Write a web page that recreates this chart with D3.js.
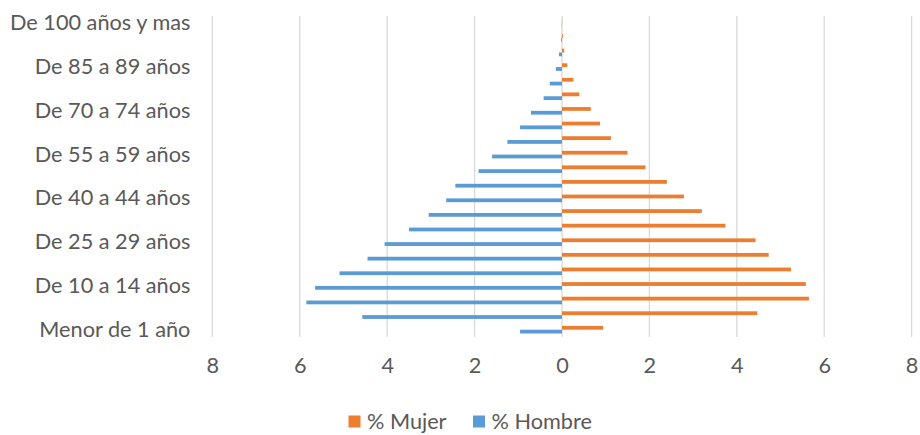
<!DOCTYPE html>
<html><head><meta charset="utf-8">
<script src="https://cdn.jsdelivr.net/npm/d3@7"></script>
<style>body{margin:0;background:#fff}svg{display:block}</style>
</head><body>
<svg id="c" width="920" height="435"></svg>
<script>
const categories = ["Menor de 1 año","De 1 a 4 años","De 5 a 9 años","De 10 a 14 años","De 15 a 19 años","De 20 a 24 años","De 25 a 29 años","De 30 a 34 años","De 35 a 39 años","De 40 a 44 años","De 45 a 49 años","De 50 a 54 años","De 55 a 59 años","De 60 a 64 años","De 65 a 69 años","De 70 a 74 años","De 75 a 79 años","De 80 a 84 años","De 85 a 89 años","De 90 a 94 años","De 95 a 99 años","De 100 años y mas"];
const mujer = [0.94,4.47,5.65,5.58,5.24,4.73,4.43,3.74,3.2,2.79,2.4,1.91,1.5,1.12,0.87,0.66,0.40,0.26,0.12,0.05,0.02,0.005];
const hombre = [0.96,4.57,5.85,5.65,5.09,4.45,4.06,3.5,3.05,2.65,2.44,1.91,1.6,1.25,0.96,0.71,0.42,0.28,0.14,0.07,0.02,0.005];
const xTicks = [-8,-6,-4,-2,0,2,4,6,8];
const seriesNames = ["% Mujer","% Hombre"];
const colors = ["#ED7D31","#5B9BD5"];

const font = "Lato, sans-serif";
const fs = 21.7;
const svg = d3.select("#c");
const L = 212.4, R = 911.6, T = 16, B = 337;
const x = d3.scaleLinear().domain([-8,8]).range([L,R]);
const y = d3.scaleBand().domain(categories).range([B,T]).paddingInner(0.48).paddingOuter(0.24);
const sub = d3.scaleBand().domain(seriesNames).range([0,y.bandwidth()]);

// gridlines
svg.append("g").selectAll("line").data(xTicks).join("line")
  .attr("x1",d=>x(d)).attr("x2",d=>x(d)).attr("y1",T).attr("y2",B)
  .attr("stroke","#d9d9d9").attr("stroke-width",1.3);

// bars
const rows = categories.map((c,i)=>({c, m:mujer[i], h:hombre[i]}));
svg.append("g").selectAll("rect").data(rows).join("rect")
  .attr("x",x(0)).attr("y",d=>y(d.c)+sub("% Mujer"))
  .attr("width",d=>x(d.m)-x(0)).attr("height",sub.bandwidth())
  .attr("fill",colors[0]);
svg.append("g").selectAll("rect").data(rows).join("rect")
  .attr("x",d=>x(-d.h)).attr("y",d=>y(d.c)+sub("% Hombre"))
  .attr("width",d=>x(0)-x(-d.h)).attr("height",sub.bandwidth())
  .attr("fill",colors[1]);

// y axis labels
const yAxis = d3.axisLeft(y).tickSize(0).tickPadding(22)
  .tickValues(categories.filter((c,i)=>i%3===0));
const ya = svg.append("g").attr("transform",`translate(${L},0)`).call(yAxis);
ya.select(".domain").remove();
ya.selectAll("text").attr("font-family",font).attr("font-size",fs).attr("fill","#595959");

// x axis labels
const xAxis = d3.axisBottom(x).tickValues(xTicks).tickSize(0).tickPadding(21).tickFormat(d=>Math.abs(d));
const xa = svg.append("g").attr("transform",`translate(0,${B})`).call(xAxis);
xa.select(".domain").remove();
xa.selectAll("text").attr("font-family",font).attr("font-size",fs).attr("fill","#595959");

// legend
const leg = svg.append("g");
const legX = [348.5, 473];
seriesNames.forEach((n,i)=>{
  leg.append("rect").attr("x",legX[i]).attr("y",415.5).attr("width",12).attr("height",12).attr("fill",colors[i]);
  leg.append("text").attr("x",legX[i]+18.5).attr("y",421.5).attr("dy","0.35em")
    .attr("font-family",font).attr("font-size",fs).attr("fill","#595959").text(n);
});
</script>
</body></html>
